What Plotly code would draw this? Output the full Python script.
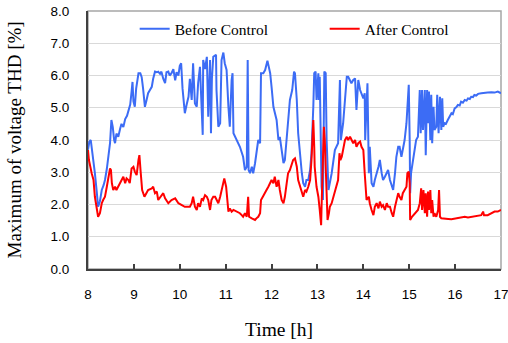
import plotly.graph_objects as go

# ---- data (time in hours, maximum voltage THD in %) ----
before_t = [8.00, 8.03, 8.06, 8.10, 8.15, 8.19, 8.22, 8.26, 8.30, 8.34, 8.37, 8.41, 8.44, 8.48, 8.51,
            8.54, 8.57, 8.59, 8.62, 8.66, 8.70, 8.73, 8.77, 8.81, 8.85, 8.88, 8.92, 8.95, 8.97, 8.99,
            9.02, 9.05, 9.08, 9.10, 9.14, 9.17, 9.20, 9.24, 9.27, 9.31, 9.35, 9.39, 9.42, 9.46, 9.50,
            9.53, 9.57, 9.60, 9.64, 9.68, 9.71, 9.75, 9.78, 9.82, 9.86, 9.90, 9.93, 9.97, 10.00, 10.03,
            10.06, 10.11, 10.15, 10.19, 10.22, 10.26, 10.29, 10.33, 10.37, 10.40, 10.44, 10.47, 10.50, 10.51,
            10.55, 10.59, 10.62, 10.66, 10.68, 10.70, 10.73, 10.79, 10.80, 10.84, 10.88, 10.91, 10.95, 10.98,
            11.02, 11.06, 11.09, 11.13, 11.15, 11.17, 11.24, 11.31, 11.38, 11.42, 11.46, 11.48, 11.50, 11.53,
            11.57, 11.60, 11.64, 11.67, 11.71, 11.75, 11.77, 11.82, 11.86, 11.91, 11.97, 12.00, 12.04, 12.11,
            12.15, 12.18, 12.26, 12.29, 12.33, 12.36, 12.40, 12.45, 12.49, 12.51, 12.55, 12.58, 12.62, 12.66,
            12.69, 12.73, 12.76, 12.80, 12.84, 12.87, 12.91, 12.93, 12.96, 12.98, 13.02, 13.03, 13.05, 13.07,
            13.09, 13.12, 13.15, 13.18, 13.20, 13.24, 13.31, 13.38, 13.45, 13.49, 13.51, 13.56, 13.60, 13.64,
            13.67, 13.71, 13.74, 13.78, 13.82, 13.85, 13.89, 13.93, 13.96, 14.00, 14.03, 14.04, 14.09, 14.12,
            14.14, 14.18, 14.22, 14.25, 14.33, 14.36, 14.40, 14.43, 14.47, 14.51, 14.54, 14.58, 14.62, 14.65,
            14.69, 14.72, 14.76, 14.79, 14.83, 14.86, 14.90, 14.94, 14.97, 14.99, 15.01, 15.02, 15.04, 15.08,
            15.12, 15.15, 15.19, 15.23, 15.25, 15.28, 15.30, 15.34, 15.36, 15.39, 15.41, 15.43, 15.46, 15.48,
            15.50, 15.53, 15.55, 15.59, 15.61, 15.64, 15.67, 15.70, 15.72, 15.74, 15.77, 15.80, 15.84, 15.88,
            15.92, 15.95, 15.99, 16.03, 16.06, 16.10, 16.13, 16.17, 16.21, 16.25, 16.28, 16.32, 16.35, 16.39,
            16.42, 16.46, 16.50, 16.57, 16.64, 16.71, 16.79, 16.86, 16.93, 17.00]
before_v = [3.70, 3.95, 4.00, 3.60, 2.97, 2.40, 1.93, 2.10, 2.45, 2.60, 2.76, 3.10, 3.48, 3.90, 4.62,
            4.40, 4.00, 3.90, 4.20, 4.10, 4.35, 4.50, 4.40, 4.65, 4.75, 4.90, 5.10, 5.50, 5.80, 5.20,
            5.03, 5.60, 6.00, 6.07, 6.07, 5.95, 5.60, 5.03, 5.20, 5.45, 5.55, 5.65, 5.90, 6.12, 6.10,
            6.12, 6.05, 6.12, 5.90, 5.76, 6.10, 6.12, 6.00, 6.07, 6.20, 5.85, 6.10, 6.00, 6.30, 6.38,
            5.60, 4.83, 5.10, 5.34, 5.90, 5.24, 6.38, 5.13, 5.03, 5.76, 6.27, 5.00, 4.16, 6.48,
            6.20, 6.58, 4.72, 6.48, 4.21, 5.90, 6.58, 6.64, 5.55, 4.41, 4.52, 6.48, 6.71, 6.38,
            6.17, 5.03, 4.41, 5.86, 6.07, 4.21, 4.00, 3.79, 3.48, 3.07, 3.17, 6.48, 3.07, 2.97,
            3.17, 2.97, 3.28, 3.59, 4.00, 3.90, 6.07, 6.07, 6.17, 6.46, 6.07, 5.65, 5.03, 4.62,
            4.00, 4.10, 3.28, 3.38, 4.10, 4.52, 5.24, 5.55, 6.12, 6.07, 5.24, 4.21, 3.48, 2.97,
            2.66, 2.55, 2.76, 2.76, 3.07, 3.59, 5.03, 6.07, 6.12, 5.24, 6.07, 5.24, 5.96, 3.38,
            2.55, 2.14, 6.12, 6.07, 4.00, 2.45, 2.97, 3.69, 3.90, 5.86, 4.00, 4.52, 5.24, 5.96,
            5.96, 5.86, 5.76, 5.86, 5.91, 4.93, 5.86, 5.55, 5.45, 5.29, 5.45, 4.00, 5.76, 2.97,
            3.79, 2.66, 2.55, 2.76, 3.17, 3.38, 2.97, 2.76, 2.86, 2.97, 3.07, 2.76, 2.55, 2.45,
            2.97, 3.48, 3.79, 3.79, 3.48, 3.69, 4.00, 4.52, 5.34, 5.71, 4.00, 2.35, 2.97, 3.38,
            3.69, 4.00, 4.10, 5.55, 4.21, 5.55, 4.31, 5.55, 3.53, 5.55, 4.52, 5.50, 4.00, 5.40,
            3.90, 5.03, 4.31, 4.41, 5.40, 4.21, 5.34, 4.31, 5.29, 4.41, 4.52, 4.50, 4.62, 4.72,
            4.83, 4.80, 4.98, 5.02, 5.09, 5.07, 5.19, 5.16, 5.24, 5.22, 5.29, 5.27, 5.34, 5.33,
            5.40, 5.38, 5.43, 5.45, 5.45, 5.47, 5.48, 5.47, 5.50, 5.45]

after_t = [8.00, 8.02, 8.08, 8.12, 8.15, 8.19, 8.22, 8.26, 8.30, 8.33, 8.37, 8.41, 8.44, 8.48, 8.50,
           8.52, 8.55, 8.59, 8.62, 8.66, 8.70, 8.73, 8.77, 8.81, 8.84, 8.88, 8.91, 8.95, 8.99, 9.02,
           9.06, 9.10, 9.12, 9.15, 9.18, 9.23, 9.28, 9.31, 9.39, 9.42, 9.46, 9.50, 9.53, 9.60, 9.64,
           9.68, 9.75, 9.82, 9.90, 9.97, 10.04, 10.11, 10.19, 10.22, 10.26, 10.29, 10.33, 10.37, 10.40,
           10.44, 10.48, 10.51, 10.55, 10.59, 10.62, 10.66, 10.69, 10.73, 10.77, 10.80, 10.84, 10.88, 10.91,
           10.95, 10.97, 11.01, 11.04, 11.06, 11.09, 11.13, 11.17, 11.24, 11.28, 11.31, 11.35, 11.38, 11.42,
           11.46, 11.49, 11.51, 11.57, 11.64, 11.67, 11.71, 11.75, 11.77, 11.81, 11.86, 11.89, 11.93, 11.97,
           12.00, 12.04, 12.07, 12.11, 12.15, 12.18, 12.22, 12.26, 12.29, 12.33, 12.36, 12.40, 12.44, 12.47,
           12.51, 12.55, 12.58, 12.62, 12.66, 12.69, 12.73, 12.76, 12.80, 12.84, 12.87, 12.89, 12.91, 12.93,
           12.94, 12.98, 13.02, 13.05, 13.08, 13.09, 13.11, 13.13, 13.14, 13.16, 13.18, 13.20, 13.22, 13.25,
           13.27, 13.31, 13.35, 13.38, 13.42, 13.45, 13.48, 13.50, 13.53, 13.56, 13.60, 13.64, 13.67, 13.71,
           13.74, 13.78, 13.82, 13.85, 13.89, 13.93, 13.96, 14.00, 14.03, 14.05, 14.07, 14.12, 14.14, 14.18,
           14.22, 14.25, 14.29, 14.33, 14.36, 14.40, 14.43, 14.47, 14.51, 14.54, 14.58, 14.62, 14.65, 14.69,
           14.72, 14.76, 14.79, 14.83, 14.86, 14.90, 14.94, 14.96, 14.99, 15.01, 15.02, 15.06, 15.12, 15.19,
           15.23, 15.26, 15.28, 15.31, 15.34, 15.36, 15.39, 15.41, 15.43, 15.46, 15.48, 15.50, 15.53, 15.55,
           15.59, 15.63, 15.65, 15.67, 15.70, 15.77, 15.85, 15.92, 15.99, 16.06, 16.14, 16.21, 16.28, 16.35,
           16.42, 16.50, 16.57, 16.61, 16.63, 16.71, 16.79, 16.86, 16.93, 17.00]
after_v = [3.69, 3.38, 2.97, 2.76, 2.24, 1.93, 1.62, 1.73, 2.04, 2.14, 2.24, 2.55, 2.76, 3.12, 3.07,
           2.66, 2.45, 2.55, 2.45, 2.55, 2.66, 2.76, 2.86, 2.66, 2.81, 2.76, 2.66, 3.12, 3.17, 3.02,
           2.91, 3.38, 3.53, 2.97, 2.45, 2.24, 2.35, 2.45, 2.50, 2.55, 2.35, 2.40, 2.14, 2.29, 2.35,
           2.19, 2.04, 2.14, 2.19, 2.04, 1.98, 1.93, 1.93, 1.93, 2.04, 2.24, 1.93, 1.83, 2.04,
           1.93, 2.19, 2.14, 2.29, 2.24, 2.14, 1.83, 2.14, 2.24, 2.24, 2.14, 2.04, 2.24, 2.45,
           2.76, 2.81, 2.55, 1.93, 1.78, 1.88, 1.78, 1.83, 1.78, 1.73, 1.73, 1.67, 1.62, 1.73,
           1.62, 2.24, 1.62, 1.57, 1.52, 1.57, 1.62, 1.73, 2.14, 2.24, 2.35, 2.45, 2.55, 2.66,
           2.76, 2.66, 2.86, 2.55, 2.76, 2.45, 2.14, 2.04, 2.24, 2.66, 2.97, 3.07, 3.28, 3.38,
           3.43, 3.17, 2.76, 2.55, 2.35, 2.24, 2.45, 2.40, 2.55, 2.76, 3.38, 4.00, 4.62, 3.79,
           3.17, 2.55, 2.24, 1.83, 1.36, 1.93, 2.76, 3.79, 4.41, 4.00, 3.17, 1.93, 1.52, 1.73,
           1.93, 2.04, 2.24, 2.45, 2.66, 2.76, 3.59, 3.38, 3.48, 3.69, 4.00, 4.10, 4.00, 4.10,
           4.00, 3.90, 4.00, 3.79, 3.90, 3.95, 3.79, 3.69, 2.97, 2.66, 2.14, 2.24, 2.04, 1.83,
           1.67, 1.93, 2.04, 1.88, 2.09, 1.93, 1.98, 1.83, 2.04, 1.93, 1.93, 1.73, 1.62, 1.93,
           2.14, 2.35, 2.24, 2.14, 2.35, 2.45, 2.55, 2.97, 3.02, 2.66, 1.52, 1.62, 1.73, 1.83,
           2.04, 2.50, 1.83, 2.45, 1.73, 2.35, 1.62, 2.40, 1.83, 2.45, 1.73, 2.14, 1.62, 1.73,
           1.62, 1.83, 2.45, 1.62, 1.57, 1.57, 1.55, 1.54, 1.56, 1.57, 1.58, 1.62, 1.60, 1.62,
           1.63, 1.64, 1.67, 1.78, 1.67, 1.67, 1.73, 1.78, 1.78, 1.83]

x_ticks = [8, 9, 10, 11, 12, 13, 14, 15, 16, 17]
y_ticks = [0, 1, 2, 3, 4, 5, 6, 7, 8]

SERIF = "Liberation Serif, Times New Roman, serif"
SANS = "Liberation Sans, Arial, sans-serif"

fig = go.Figure()
fig.add_trace(go.Scatter(x=before_t, y=before_v, mode="lines", name="Before Control",
                         legendwidth=145, line=dict(color="#3c6cf5", width=2)))
fig.add_trace(go.Scatter(x=after_t, y=after_v, mode="lines", name="After Control",
                         legendwidth=90, line=dict(color="#ff0000", width=2)))

fig.update_layout(
    width=508, height=343,
    margin=dict(l=88, r=7, t=11, b=74, autoexpand=False),
    paper_bgcolor="white", plot_bgcolor="white",
    showlegend=True,
    legend=dict(orientation="h", x=0.113, y=0.995, xanchor="left", yanchor="top",
                bgcolor="rgba(0,0,0,0)", font=dict(family=SERIF, size=15.5, color="black")),
    shapes=[dict(type="rect", xref="paper", yref="paper", x0=0, y0=0, x1=1, y1=1,
                 line=dict(color="#a6a6a6", width=1.5), layer="below")],
    annotations=[
        dict(text="Time [h]", xref="paper", yref="paper", x=0.463, y=-0.235,
             xanchor="center", yanchor="middle", showarrow=False,
             font=dict(family=SERIF, size=19.5, color="black")),
        dict(text="Maximum of voltage THD [%]", xref="paper", yref="paper", x=-0.178, y=0.5,
             xanchor="center", yanchor="middle", textangle=-90, showarrow=False,
             font=dict(family=SERIF, size=19, color="black")),
    ],
)
fig.update_xaxes(range=[8, 17], tickvals=x_ticks, ticks="inside", ticklen=5, tickwidth=1.5,
                 tickcolor="#404040", showline=True, linecolor="#404040", linewidth=2,
                 showgrid=False, zeroline=False, ticklabelstandoff=12, automargin=False,
                 ticklabeloverflow="allow",
                 tickfont=dict(family=SANS, size=13.5, color="black"))
fig.update_yaxes(range=[0, 8], tickvals=y_ticks, tickformat=".1f", ticks="",
                 showline=True, linecolor="#404040", linewidth=2,
                 showgrid=True, gridcolor="#d9d9d9", gridwidth=1, zeroline=False,
                 ticklabelstandoff=14, ticklabeloverflow="allow", automargin=False,
                 tickfont=dict(family=SANS, size=13.5, color="black"))

fig.write_html("out.html")
